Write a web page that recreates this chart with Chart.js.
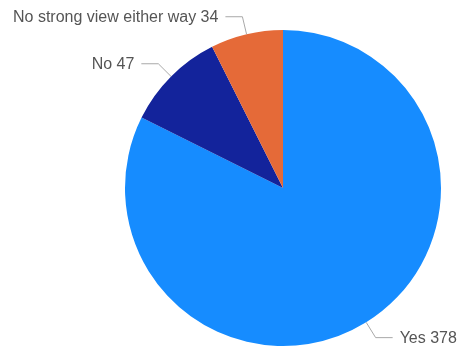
<!DOCTYPE html>
<html>
<head>
<meta charset="utf-8">
<script src="https://cdn.jsdelivr.net/npm/chart.js"></script>
<style>
  body { margin: 0; background: #fff; }
</style>
</head>
<body>
<canvas id="pie" width="460" height="349"></canvas>
<script>
// answers and counts
const labels = ['Yes', 'No', 'No strong view either way'];
const counts = [378, 47, 34];
const sliceColors = ['#168cff', '#13239b', '#e56a38'];

// draws "label value" outside each slice with a bent leader line
const outsideLabels = {
    id: 'outsideLabels',
    afterDraw(chart) {
        const ctx = chart.ctx;
        const arcs = chart.getDatasetMeta(0).data;
        ctx.save();
        ctx.font = '16px "Liberation Sans", Arial, sans-serif';
        ctx.textBaseline = 'middle';
        arcs.forEach((arc, i) => {
            const mid = (arc.startAngle + arc.endAngle) / 2;
            const r = arc.outerRadius;
            const cos = Math.cos(mid), sin = Math.sin(mid);
            const x0 = arc.x + cos * r, y0 = arc.y + sin * r;
            const x1 = arc.x + cos * (r + 18), y1 = arc.y + sin * (r + 18);
            const right = cos >= 0;
            const x2 = x1 + (right ? 17 : -17);
            ctx.strokeStyle = '#a8a8a8';
            ctx.lineWidth = 1;
            ctx.beginPath();
            ctx.moveTo(x0, y0);
            ctx.lineTo(x1, y1);
            ctx.lineTo(x2, y1);
            ctx.stroke();
            ctx.fillStyle = '#555';
            ctx.textAlign = right ? 'left' : 'right';
            ctx.fillText(labels[i] + ' ' + counts[i], x2 + (right ? 7 : -7), y1 + 1);
        });
        ctx.restore();
    }
};

new Chart(document.getElementById('pie'), {
    type: 'pie',
    data: {
        labels: labels,
        datasets: [{
            data: counts,
            backgroundColor: sliceColors,
            borderWidth: 0
        }]
    },
    options: {
        responsive: false,
        animation: false,
        layout: { padding: { top: 30, bottom: 3, left: 125, right: 19 } },
        plugins: {
            legend: { display: false },
            tooltip: { enabled: false }
        }
    },
    plugins: [outsideLabels]
});
</script>
</body>
</html>
